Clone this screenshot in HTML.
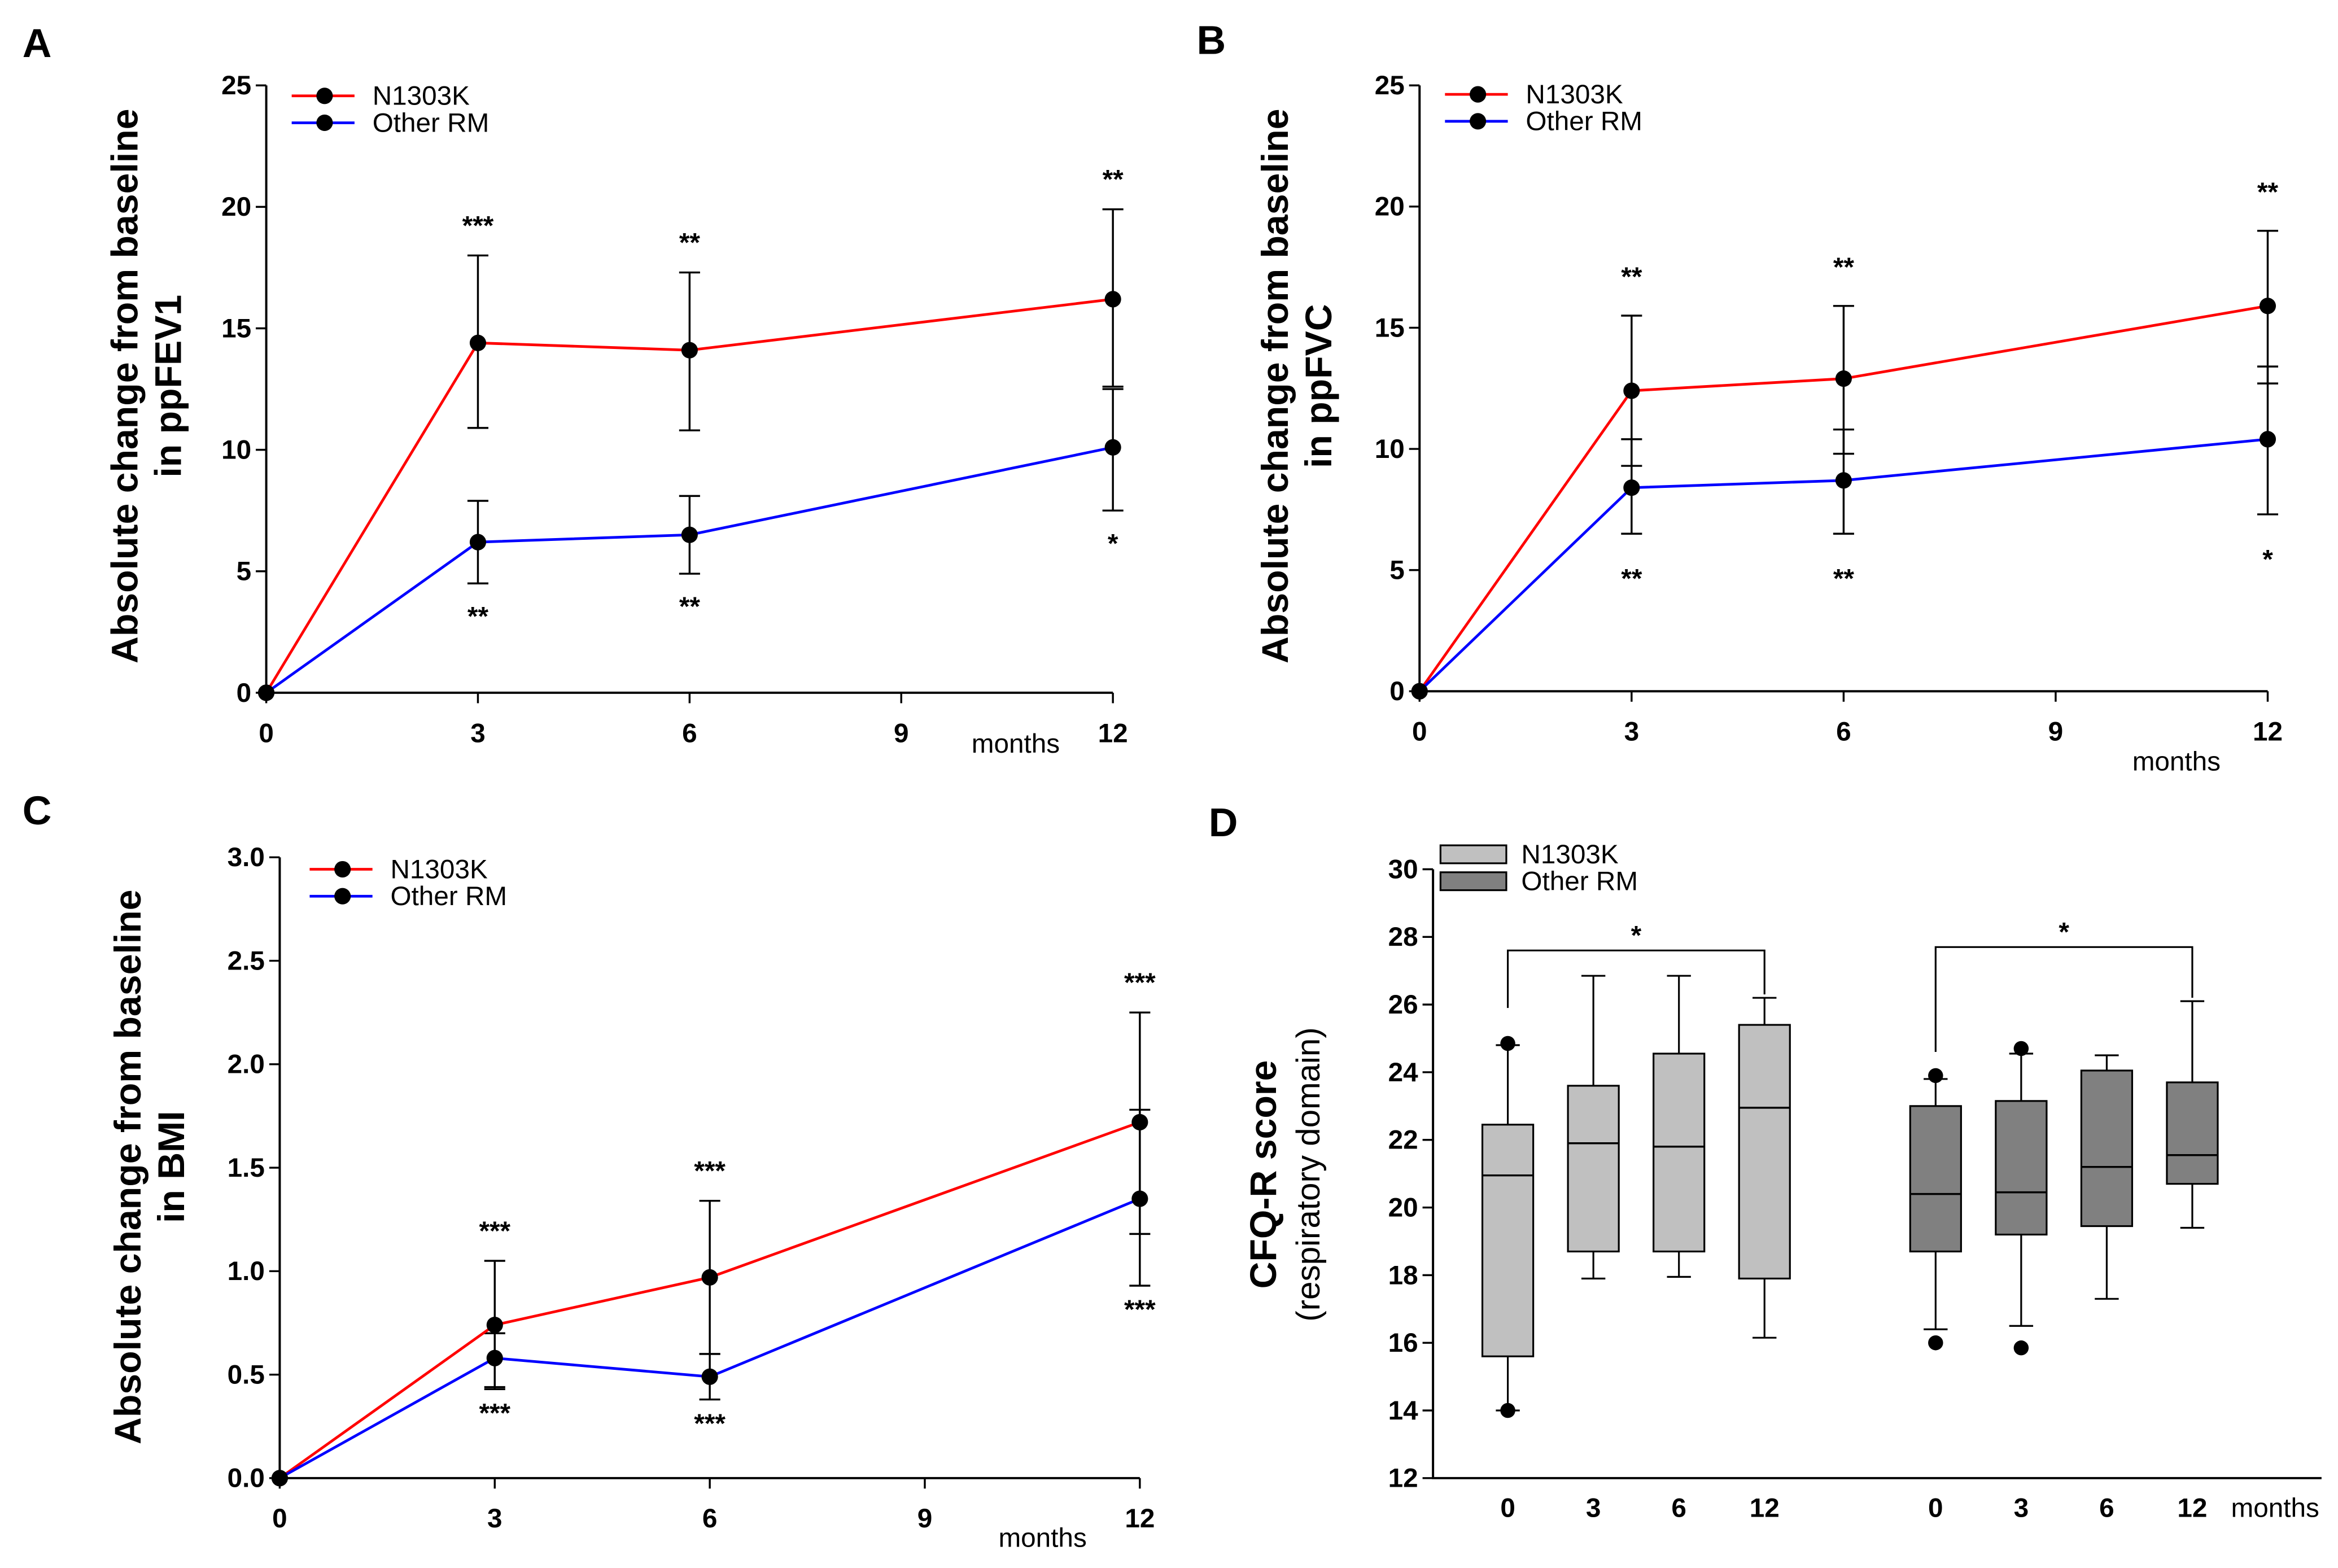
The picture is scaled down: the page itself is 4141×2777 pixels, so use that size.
<!DOCTYPE html>
<html><head><meta charset="utf-8"><style>
html,body{margin:0;padding:0;background:#fff}
svg{display:block}
text{font-family:"Liberation Sans",sans-serif}
.tk{font-size:18px;font-weight:bold}
.lg{font-size:18px}
.st{font-size:18px;font-weight:bold}
.ti{font-size:25px;font-weight:bold}
.pl{font-size:27px;font-weight:bold}
</style></head><body>
<svg id="fig" width="4141" height="2777" viewBox="0 0 1563 1048" xmlns="http://www.w3.org/2000/svg"></svg>
<script>
// ---------- data ----------
const months = [0, 3, 6, 12];
const xTicks = [0, 3, 6, 9, 12];
// Panel A ppFEV1
const aRed = [0, 14.4, 14.1, 16.2];
const aRedUp = [0, 18.0, 17.3, 19.9];
const aRedDn = [0, 10.9, 10.8, 12.6];
const aBlue = [0, 6.2, 6.5, 10.1];
const aBlueUp = [0, 7.9, 8.1, 12.5];
const aBlueDn = [0, 4.5, 4.9, 7.5];
const aStarTop = ["", "***", "**", "**"];
const aStarBot = ["", "**", "**", "*"];
const aYTicks = [0, 5, 10, 15, 20, 25];
// Panel B ppFVC
const bRed = [0, 12.4, 12.9, 15.9];
const bRedUp = [0, 15.5, 15.9, 19.0];
const bRedDn = [0, 9.3, 9.8, 12.7];
const bBlue = [0, 8.4, 8.7, 10.4];
const bBlueUp = [0, 10.4, 10.8, 13.4];
const bBlueDn = [0, 6.5, 6.5, 7.3];
const bStarTop = ["", "**", "**", "**"];
const bStarBot = ["", "**", "**", "*"];
const bYTicks = [0, 5, 10, 15, 20, 25];
// Panel C BMI
const cRed = [0, 0.74, 0.97, 1.72];
const cRedUp = [0, 1.05, 1.34, 2.25];
const cRedDn = [0, 0.44, 0.60, 1.18];
const cBlue = [0, 0.58, 0.49, 1.35];
const cBlueUp = [0, 0.70, 0.60, 1.78];
const cBlueDn = [0, 0.43, 0.38, 0.93];
const cStarTop = ["", "***", "***", "***"];
const cStarBot = ["", "***", "***", "***"];
const cYTicks = [0, 0.5, 1.0, 1.5, 2.0, 2.5, 3.0];
// Panel D CFQ-R boxes
const dLabels = ["0", "3", "6", "12", "0", "3", "6", "12"];
const dGroup = [0, 0, 0, 0, 1, 1, 1, 1];
const dWLow = [14.0, 17.9, 17.95, 16.15, 16.4, 16.5, 17.3, 19.4];
const dQ1 = [15.6, 18.7, 18.7, 17.9, 18.7, 19.2, 19.45, 20.7];
const dMed = [20.95, 21.9, 21.8, 22.95, 20.4, 20.45, 21.2, 21.55];
const dQ3 = [22.45, 23.6, 24.55, 25.4, 23.0, 23.15, 24.05, 23.7];
const dWHigh = [24.8, 26.85, 26.85, 26.2, 23.8, 24.55, 24.5, 26.1];
const dOutLow = [14.0, null, null, null, 16.0, 15.85, null, null];
const dOutHigh = [24.85, null, null, null, 23.9, 24.7, null, null];
const dYTicks = [12, 14, 16, 18, 20, 22, 24, 26, 28, 30];

// ---------- helpers ----------
const svg = document.getElementById('fig');
const NS = 'http://www.w3.org/2000/svg';
function mk(tag, attrs, parent) {
  const e = document.createElementNS(NS, tag);
  for (const k in attrs) e.setAttribute(k, attrs[k]);
  (parent || svg).appendChild(e);
  return e;
}
function txt(x, y, s, cls, anchor, parent) {
  const t = mk('text', {x: x, y: y, class: cls, 'text-anchor': anchor || 'middle'}, parent);
  t.textContent = s;
  return t;
}

function linePanel(P) {
  const g = mk('g', {});
  
  
  const sx = v => P.x0 + (P.x12 - P.x0) * v / 12;
  const sy = v => P.y0 - (P.y0 - P.yTop) * (v - P.yMin) / (P.yMax - P.yMin);
  const pl = txt(P.letX, P.letY, P.letter, 'pl', 'start', g);
  
  
  const ax = mk('path', {d: `M${P.x0},${P.yTop}V${P.y0}H${P.x12}`, stroke: '#000', 'stroke-width': 1.5, fill: 'none'}, g);
  
  
  P.yTicks.forEach(v => {
    mk('line', {x1: P.x0 - 7, x2: P.x0, y1: sy(v), y2: sy(v), stroke: '#000', 'stroke-width': 1.3}, g);
    const t = txt(P.x0 - 10, sy(v) + 6, P.yFmt(v), 'tk', 'end', g);
    
    
  });
  xTicks.forEach(v => {
    mk('line', {x1: sx(v), x2: sx(v), y1: P.y0, y2: P.y0 + 7, stroke: '#000', 'stroke-width': 1.3}, g);
    const t = txt(sx(v), P.y0 + 33, String(v), 'tk', 'middle', g);
    
    
  });
  const mo = txt(P.moX, P.moY, 'months', 'lg', 'middle', g);
  
  
  const yt = mk('text', {transform: `translate(${P.titX},${P.titY}) rotate(-90)`, class: 'ti', 'text-anchor': 'middle'}, g);
  
  
  const t1 = mk('tspan', {x: 0, y: 0}, yt); t1.textContent = 'Absolute change from baseline';
  const t2 = mk('tspan', {x: 0, y: 29}, yt); t2.textContent = P.title2;
  const series = [
    {v: P.red, up: P.redUp, dn: P.redDn, c: '#ff0000', n: 'n1303k'},
    {v: P.blue, up: P.blueUp, dn: P.blueDn, c: '#0000ff', n: 'other-rm'}
  ];
  series.forEach(s => {
    months.forEach((m, i) => {
      if (i === 0) return;
      const x = sx(m);
      mk('line', {x1: x, x2: x, y1: sy(s.up[i]), y2: sy(s.dn[i]), stroke: '#000', 'stroke-width': 1.3}, g);
      mk('line', {x1: x - 7, x2: x + 7, y1: sy(s.up[i]), y2: sy(s.up[i]), stroke: '#000', 'stroke-width': 1.3}, g);
      mk('line', {x1: x - 7, x2: x + 7, y1: sy(s.dn[i]), y2: sy(s.dn[i]), stroke: '#000', 'stroke-width': 1.3}, g);
    });
  });
  series.forEach(s => {
    const pts = months.map((m, i) => `${sx(m)},${sy(s.v[i])}`).join(' ');
    const pl2 = mk('polyline', {points: pts, fill: 'none', stroke: s.c, 'stroke-width': 1.8}, g);
    
    
    months.forEach((m, i) => {
      const c = mk('circle', {cx: sx(m), cy: sy(s.v[i]), r: 5.5, fill: '#000'}, g);
      
      
    });
  });
  months.forEach((m, i) => {
    if (P.starTop[i]) {
      const t = txt(sx(m), sy(P.redUp[i]) - P.starGap, P.starTop[i], 'st', 'middle', g);
      
      
    }
    if (P.starBot[i]) {
      const t = txt(sx(m), sy(P.blueDn[i]) + P.starGapB, P.starBot[i], 'st', 'middle', g);
      
      
    }
  });
  [['N1303K', '#ff0000', P.lgY], ['Other RM', '#0000ff', P.lgY + 18]].forEach(l => {
    const lg = mk('g', {}, g);
    
    
    mk('line', {x1: P.lgX, x2: P.lgX + 42, y1: l[2], y2: l[2], stroke: l[1], 'stroke-width': 1.8}, lg);
    mk('circle', {cx: P.lgX + 22, cy: l[2], r: 5.5, fill: '#000'}, lg);
    txt(P.lgX + 54, l[2] + 6, l[0], 'lg', 'start', lg);
  });
}

linePanel({name: 'panel-a', letter: 'A', letX: 15, letY: 38, x0: 178, x12: 744, y0: 463, yTop: 57, yMin: 0, yMax: 25,
  yTicks: aYTicks, yFmt: v => String(v), red: aRed, redUp: aRedUp, redDn: aRedDn, blue: aBlue, blueUp: aBlueUp, blueDn: aBlueDn,
  starTop: aStarTop, starBot: aStarBot, starGap: 14, starGapB: 28, moX: 679, moY: 503, titX: 92, titY: 258, title2: 'in ppFEV1', lgX: 195, lgY: 64});
linePanel({name: 'panel-b', letter: 'B', letX: 800, letY: 36, x0: 949, x12: 1516, y0: 462, yTop: 57, yMin: 0, yMax: 25,
  yTicks: bYTicks, yFmt: v => String(v), red: bRed, redUp: bRedUp, redDn: bRedDn, blue: bBlue, blueUp: bBlueUp, blueDn: bBlueDn,
  starTop: bStarTop, starBot: bStarBot, starGap: 20, starGapB: 36, moX: 1455, moY: 515, titX: 861, titY: 258, title2: 'in ppFVC', lgX: 966, lgY: 63});
linePanel({name: 'panel-c', letter: 'C', letX: 15, letY: 551, x0: 187, x12: 762, y0: 988, yTop: 573, yMin: 0, yMax: 3,
  yTicks: cYTicks, yFmt: v => v.toFixed(1), red: cRed, redUp: cRedUp, redDn: cRedDn, blue: cBlue, blueUp: cBlueUp, blueDn: cBlueDn,
  starTop: cStarTop, starBot: cStarBot, starGap: 14, starGapB: 22, moX: 697, moY: 1034, titX: 94, titY: 780, title2: 'in BMI', lgX: 207, lgY: 581});

// ---------- panel D ----------
(function () {
  const g = mk('g', {});
  
  
  const x0 = 958, xEnd = 1552, y12 = 988, y30 = 581;
  const sy = v => y12 - (y12 - y30) * (v - 12) / 18;
  const boxX = (i) => (dGroup[i] === 0 ? 1008 : 1294) + (i % 4) * 57.2;
  const bw = 34;
  const pl = txt(808, 559, 'D', 'pl', 'start', g);
  
  
  const ax = mk('path', {d: `M${x0},${y30}V${y12}H${xEnd}`, stroke: '#000', 'stroke-width': 1.5, fill: 'none'}, g);
  
  
  dYTicks.forEach(v => {
    mk('line', {x1: x0 - 7, x2: x0, y1: sy(v), y2: sy(v), stroke: '#000', 'stroke-width': 1.3}, g);
    const t = txt(x0 - 10, sy(v) + 6, String(v), 'tk', 'end', g);
    
    
  });
  dLabels.forEach((l, i) => {
    const t = txt(boxX(i), 1014, l, 'tk', 'middle', g);
    
    
  });
  const mo = txt(1521, 1014, 'months', 'lg', 'middle', g);
  
  
  const yt = mk('text', {transform: 'translate(853,785) rotate(-90)', 'text-anchor': 'middle'}, g);
  
  
  const a = mk('tspan', {x: 0, y: 0, class: 'ti'}, yt); a.textContent = 'CFQ-R score';
  const b = mk('tspan', {x: 0, y: 29, style: 'font-size:22px'}, yt); b.textContent = '(respiratory domain)';
  dMed.forEach((m, i) => {
    const bx = mk('g', {}, g);
    
    
    const x = boxX(i);
    const fill = dGroup[i] ? '#808080' : '#c0c0c0';
    mk('line', {x1: x, x2: x, y1: sy(dWHigh[i]), y2: sy(dQ3[i]), stroke: '#000', 'stroke-width': 1.2}, bx);
    mk('line', {x1: x, x2: x, y1: sy(dQ1[i]), y2: sy(dWLow[i]), stroke: '#000', 'stroke-width': 1.2}, bx);
    mk('line', {x1: x - 8, x2: x + 8, y1: sy(dWHigh[i]), y2: sy(dWHigh[i]), stroke: '#000', 'stroke-width': 1.2}, bx);
    mk('line', {x1: x - 8, x2: x + 8, y1: sy(dWLow[i]), y2: sy(dWLow[i]), stroke: '#000', 'stroke-width': 1.2}, bx);
    mk('rect', {x: x - bw / 2, y: sy(dQ3[i]), width: bw, height: sy(dQ1[i]) - sy(dQ3[i]), fill: fill, stroke: '#000', 'stroke-width': 1.2}, bx);
    mk('line', {x1: x - bw / 2, x2: x + bw / 2, y1: sy(m), y2: sy(m), stroke: '#000', 'stroke-width': 1.3}, bx);
    [dOutLow[i], dOutHigh[i]].forEach(o => {
      if (o !== null) mk('circle', {cx: x, cy: sy(o), r: 5, fill: '#000'}, bx);
    });
  });
  [[0, 3, 27.6, 25.9, 26.3], [4, 7, 27.7, 24.6, 26.2]].forEach(br => {
    const xa = boxX(br[0]), xb = boxX(br[1]);
    const p = mk('path', {d: `M${xa},${sy(br[3])}V${sy(br[2])}H${xb}V${sy(br[4])}`, fill: 'none', stroke: '#000', 'stroke-width': 1.2}, g);
    
    
    const t = txt((xa + xb) / 2, sy(br[2]) - 4, '*', 'st', 'middle', g);
    
    
  });
  [['N1303K', '#c0c0c0', 565], ['Other RM', '#808080', 583]].forEach(l => {
    const lg = mk('g', {}, g);
    
    
    mk('rect', {x: 963, y: l[2], width: 44, height: 12, fill: l[1], stroke: '#000', 'stroke-width': 1.2}, lg);
    txt(1017, l[2] + 12, l[0], 'lg', 'start', lg);
  });
})();
</script>
</body></html>
